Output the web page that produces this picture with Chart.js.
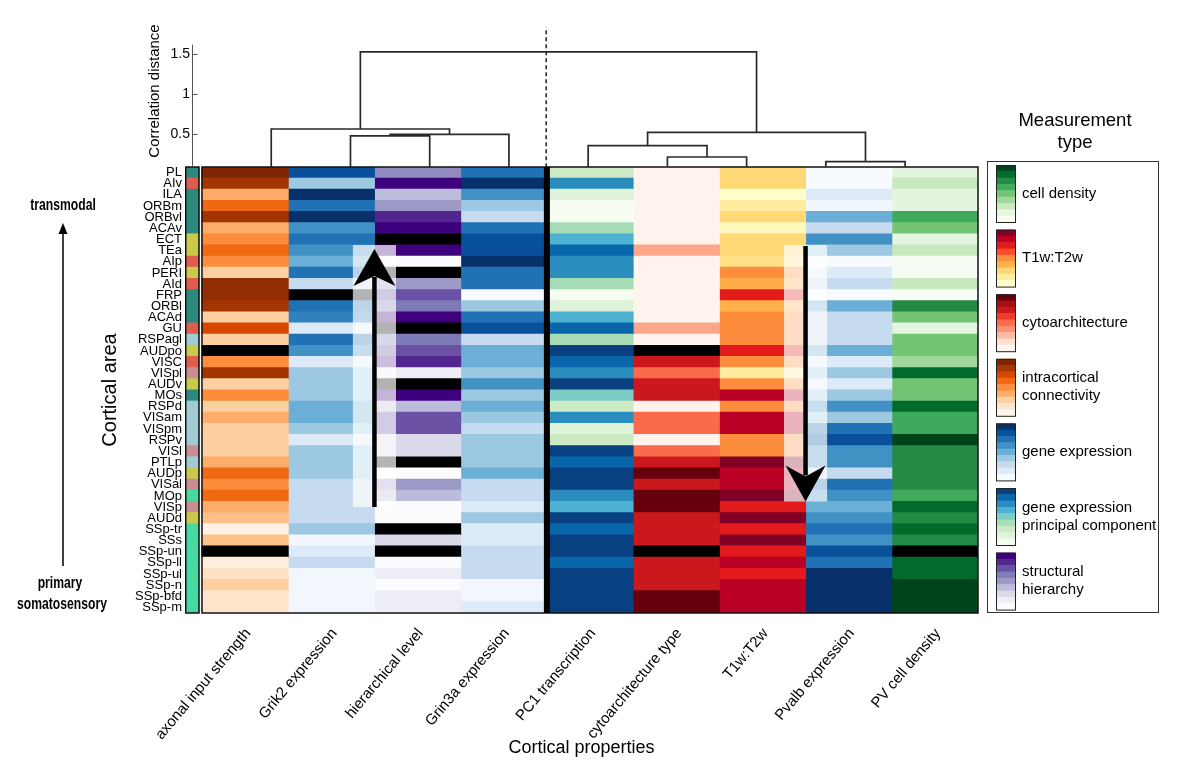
<!DOCTYPE html>
<html><head><meta charset="utf-8">
<script src="https://cdn.jsdelivr.net/npm/chart.js@4.4.0/dist/chart.umd.min.js"></script>
<style>
html,body{margin:0;padding:0;background:#fff;}
#wrap{position:relative;width:1200px;height:773px;}
canvas{position:absolute;left:0;top:0;}
#dendro{pointer-events:none;}
</style></head><body>
<div id="wrap"><canvas id="heat" width="1200" height="773"></canvas><canvas id="dendro" width="1200" height="773"></canvas></div>
<script>
// ---------- data ----------
const areas = ['PL','AIv','ILA','ORBm','ORBvl','ACAv','ECT','TEa','AIp','PERI','AId','FRP','ORBl','ACAd','GU','RSPagl','AUDpo','VISC','VISpl','AUDv','MOs','RSPd','VISam','VISpm','RSPv','VISl','PTLp','AUDp','VISal','MOp','VISp','AUDd','SSp-tr','SSs','SSp-un','SSp-ll','SSp-ul','SSp-n','SSp-bfd','SSp-m'];
const areaTypes = ['T','R','T','T','T','T','Y','Y','R','Y','R','T','T','T','R','B','Y','R','P','Y','T','B','B','B','B','P','B','Y','P','M','P','Y','M','M','M','M','M','M','M','M'];
const properties = ['axonal input strength','Grik2 expression','hierarchical level','Grin3a expression','PC1 transcription','cytoarchitecture type','T1w:T2w','Pvalb expression','PV cell density'];

const axonalInputStrength = [1.00,0.88,0.38,0.63,0.88,0.38,0.50,0.63,0.50,0.25, 0.94,0.94,0.88,0.25,0.75,0.25,null,0.50,0.88,0.25, 0.50,0.25,0.38,0.25,0.25,0.25,0.38,0.63,0.50,0.63, 0.38,0.31,0.03,0.31,null,0.05,0.15,0.25,0.13,0.13];
const grik2Expression = [0.88,0.38,1.00,0.75,1.00,0.63,0.75,0.63,0.50,0.75, 0.25,null,0.75,0.69,0.13,0.75,0.63,0.13,0.38,0.38, 0.38,0.50,0.50,0.38,0.13,0.38,0.38,0.38,0.25,0.25, 0.25,0.25,0.38,0.03,0.13,0.25,0.03,0.03,0.03,0.03];
const hierarchicalLevel = [0.56,1.00,0.38,0.50,0.88,1.00,null,1.00,0.00,null, 0.50,0.75,0.63,1.00,null,0.63,0.75,0.88,0.13,null, 1.00,0.38,0.75,0.75,0.25,0.25,null,0.00,0.50,0.38, 0.00,0.00,null,0.25,null,0.00,0.13,0.00,0.13,0.13];
const grin3aExpression = [0.75,1.00,0.63,0.38,0.25,0.75,0.88,0.88,1.00,0.75, 0.75,0.00,0.38,0.75,0.88,0.25,0.50,0.50,0.38,0.63, 0.38,0.50,0.38,0.25,0.38,0.38,0.38,0.50,0.25,0.25, 0.13,0.38,0.13,0.13,0.25,0.25,0.25,0.03,0.03,0.13];
const pc1Transcription = [0.25,0.75,0.13,0.00,0.00,0.38,0.63,0.88,0.75,0.75, 0.38,0.00,0.13,0.63,0.88,0.38,1.00,0.88,0.75,1.00, 0.50,0.25,0.75,0.13,0.25,1.00,0.88,1.00,1.00,0.75, 0.63,1.00,0.88,1.00,1.00,0.88,1.00,1.00,1.00,1.00];
const cytoarchitectureType = [0.01,0.01,0.01,0.01,0.01,0.01,0.01,0.31,0.01,0.01, 0.01,0.01,0.01,0.01,0.31,0.01,null,0.75,0.50,0.75, 0.75,0.01,0.50,0.50,0.01,0.50,0.75,1.00,0.75,1.00, 1.00,0.75,0.75,0.75,null,0.75,0.75,0.75,1.00,1.00];
const t1wT2w = [0.25,0.25,0.00,0.13,0.25,0.04,0.25,0.25,0.20,0.50, 0.40,0.75,0.38,0.50,0.50,0.50,0.75,0.50,0.13,0.50, 0.88,0.50,0.88,0.88,0.50,0.50,1.00,0.88,0.88,1.00, 0.75,1.00,0.75,1.00,0.75,0.88,0.75,0.88,0.88,0.88];
const pvalbExpression = [0.00,0.00,0.13,0.04,0.50,0.25,0.63,0.38,0.00,0.13, 0.25,0.00,0.50,0.25,0.25,0.25,0.50,0.13,0.38,0.13, 0.38,0.63,0.38,0.75,0.88,0.63,0.63,0.25,0.75,0.63, 0.50,0.63,0.75,0.63,0.88,0.75,1.00,1.00,1.00,1.00];
const pvCellDensity = [0.13,0.25,0.13,0.13,0.63,0.50,0.13,0.25,0.00,0.00, 0.25,0.00,0.75,0.50,0.13,0.50,0.50,0.38,0.88,0.50, 0.50,0.88,0.63,0.63,1.00,0.75,0.75,0.75,0.75,0.63, 0.88,0.75,0.88,0.75,null,0.88,0.88,1.00,1.00,1.00];

// dendrogram linkage (leaf ids 0..8 = property columns, cluster ids 9..)
const linkLeft   = [7, 5, 1, 11, 4, 13, 0, 15];
const linkRight  = [8, 6, 2, 3, 10, 9, 12, 14];
const linkHeight = [0.158, 0.216, 0.479, 0.500, 0.357, 0.525, 0.566, 1.53];
const distanceTicks = [0.5, 1, 1.5];
const cutPosition = 4.47;

// ---------- styles ----------
const CMAPS = {
  Oranges:['#fff5eb','#fee6ce','#fdd0a2','#fdae6b','#fd8d3c','#f16913','#d94801','#a63603','#7f2704'],
  Blues:['#f7fbff','#deebf7','#c6dbef','#9ecae1','#6baed6','#4292c6','#2171b5','#08519c','#08306b'],
  Purples:['#fcfbfd','#efedf5','#dadaeb','#bcbddc','#9e9ac8','#807dba','#6a51a3','#54278f','#3f007d'],
  GnBu:['#f7fcf0','#e0f3db','#ccebc5','#a8ddb5','#7bccc4','#4eb3d3','#2b8cbe','#0868ac','#084081'],
  Reds:['#fff5f0','#fee0d2','#fcbba1','#fc9272','#fb6a4a','#ef3b2c','#cb181d','#a50f15','#67000d'],
  YlOrRd:['#ffffcc','#ffeda0','#fed976','#feb24c','#fd8d3c','#fc4e2a','#e31a1c','#bd0026','#800026'],
  Greens:['#f7fcf5','#e5f5e0','#c7e9c0','#a1d99b','#74c476','#41ab5d','#238b45','#006d2c','#00441b']
};
const propertyCmaps = ['Oranges','Blues','Purples','Blues','GnBu','Reds','YlOrRd','Blues','Greens'];
const TYPE_COLORS = {T:'#2b8a7d', R:'#e05d4d', Y:'#c9c94b', B:'#a1cbd3', P:'#c88d92', M:'#46daa1'};
function hexToRgb(h){ return [parseInt(h.slice(1,3),16), parseInt(h.slice(3,5),16), parseInt(h.slice(5,7),16)]; }
function cmap(name, v){
  if (v === null || v === undefined) return '#000000';
  const a = CMAPS[name];
  const p = Math.max(0, Math.min(1, v)) * (a.length - 1);
  const i = Math.min(Math.floor(p), a.length - 2);
  const t = p - i;
  const c0 = hexToRgb(a[i]), c1 = hexToRgb(a[i+1]);
  return 'rgb(' + c0.map((c,k)=>Math.round(c + (c1[k]-c)*t)).join(',') + ')';
}

const FONT = "'Liberation Sans', Arial, Helvetica, sans-serif";
Chart.defaults.font.family = FONT;
Chart.defaults.color = '#000';

const STRIP_X0 = -0.197, STRIP_X1 = -0.035;
const columns = [axonalInputStrength, grik2Expression, hierarchicalLevel, grin3aExpression, pc1Transcription, cytoarchitectureType, t1wT2w, pvalbExpression, pvCellDensity];
const common = {barPercentage:1, categoryPercentage:1, grouped:false, borderWidth:0, inflateAmount:0.5};

const heatDatasets = [Object.assign({
  label:'area type',
  data: areas.map(()=>[STRIP_X0, STRIP_X1]),
  backgroundColor: areaTypes.map(t=>TYPE_COLORS[t])
}, common)].concat(columns.map((vals, j)=>Object.assign({
  label: properties[j],
  data: vals.map(()=>[j, j+1]),
  backgroundColor: vals.map(v=>cmap(propertyCmaps[j], v))
}, common)));

function narrowText(ctx, text, cx, cy, sx){
  ctx.save(); ctx.translate(cx, cy); ctx.scale(sx, 1); ctx.fillText(text, 0, 0); ctx.restore();
}

const heatDecor = {
  id:'heatDecor',
  afterDatasetsDraw(chart){
    const {ctx, chartArea, scales:{x, y}} = chart;
    const rowH = y.getPixelForValue(1) - y.getPixelForValue(0);
    const rowTop = i => y.getPixelForValue(i) - rowH/2;
    ctx.save();
    // translucent bands behind arrows
    ctx.fillStyle = 'rgba(255,255,255,0.7)';
    const lx0 = x.getPixelForValue(1.75), lx1 = x.getPixelForValue(2.25);
    const lTop = rowTop(7), lBot = rowTop(30) + rowH/2;
    ctx.fillRect(lx0, lTop, lx1-lx0, lBot-lTop);
    const rx0 = x.getPixelForValue(6.75), rx1 = x.getPixelForValue(7.25);
    const rTop = rowTop(7), rBot = rowTop(30);
    ctx.fillRect(rx0, rTop, rx1-rx0, rBot-rTop);
    // frames
    const hx0 = x.getPixelForValue(0), hx9 = x.getPixelForValue(9);
    ctx.strokeStyle = '#111'; ctx.lineWidth = 1.5;
    ctx.strokeRect(hx0, chartArea.top, hx9-hx0, chartArea.bottom-chartArea.top);
    const sx0 = x.getPixelForValue(STRIP_X0), sx1 = x.getPixelForValue(STRIP_X1);
    ctx.strokeRect(sx0+0.75, chartArea.top, sx1-sx0-0.75, chartArea.bottom-chartArea.top);
    // thick separator
    ctx.fillStyle = '#000';
    const sep = x.getPixelForValue(4);
    ctx.fillRect(sep-3, chartArea.top, 6, chartArea.bottom-chartArea.top);
    // arrows
    ctx.fillStyle = '#000'; ctx.strokeStyle = '#000'; ctx.lineWidth = 4.5;
    let cx = x.getPixelForValue(2), tip = lTop + 4;
    ctx.beginPath(); ctx.moveTo(cx, lBot); ctx.lineTo(cx, tip + 28); ctx.stroke();
    ctx.beginPath(); ctx.moveTo(cx, tip); ctx.lineTo(cx+21, tip+37); ctx.lineTo(cx, tip+27); ctx.lineTo(cx-21, tip+37); ctx.closePath(); ctx.fill();
    cx = x.getPixelForValue(7); tip = rBot;
    ctx.beginPath(); ctx.moveTo(cx, rTop+1); ctx.lineTo(cx, tip - 26); ctx.stroke();
    ctx.beginPath(); ctx.moveTo(cx, tip); ctx.lineTo(cx+20, tip-36); ctx.lineTo(cx, tip-25); ctx.lineTo(cx-20, tip-36); ctx.closePath(); ctx.fill();
    ctx.restore();
  },
  afterDraw(chart){
    const ctx = chart.ctx;
    ctx.save();
    // left gradient annotation
    ctx.fillStyle = '#000';
    ctx.textAlign = 'center'; ctx.textBaseline = 'middle';
    ctx.font = "bold 16px 'Liberation Sans', Arial, sans-serif";
    narrowText(ctx, 'transmodal', 63, 206, 0.76);
    narrowText(ctx, 'primary', 60, 584, 0.76);
    narrowText(ctx, 'somatosensory', 62, 605, 0.76);
    ctx.strokeStyle = '#000'; ctx.lineWidth = 1.5;
    ctx.beginPath(); ctx.moveTo(63, 566); ctx.lineTo(63, 232); ctx.stroke();
    ctx.beginPath(); ctx.moveTo(63, 223); ctx.lineTo(67.5, 234); ctx.lineTo(58.5, 234); ctx.closePath(); ctx.fill();
    // legend
    ctx.font = '18.5px ' + FONT;
    ctx.fillText('Measurement', 1075, 121);
    ctx.fillText('type', 1075, 143);
    ctx.strokeStyle = '#333'; ctx.lineWidth = 1;
    ctx.strokeRect(987.5, 161.5, 171, 451);
    const entries = [
      {cm:'Greens', lines:['cell density']},
      {cm:'YlOrRd', lines:['T1w:T2w']},
      {cm:'Reds', lines:['cytoarchitecture']},
      {cm:'Oranges', lines:['intracortical','connectivity']},
      {cm:'Blues', lines:['gene expression']},
      {cm:'GnBu', lines:['gene expression','principal component']},
      {cm:'Purples', lines:['structural','hierarchy']}
    ];
    ctx.font = '15px ' + FONT;
    ctx.textAlign = 'left';
    entries.forEach((e, k)=>{
      const y0 = 165 + k*64.6, h = 57, n = 9;
      for (let b = 0; b < n; b++){
        ctx.fillStyle = CMAPS[e.cm][n-1-b];
        ctx.fillRect(996, y0 + b*h/n, 19, h/n + 0.5);
      }
      ctx.strokeStyle = '#222';
      ctx.strokeRect(996.5, y0+0.5, 19, h);
      ctx.fillStyle = '#000';
      const cy = y0 + h/2;
      if (e.lines.length === 1) ctx.fillText(e.lines[0], 1022, cy);
      else { ctx.fillText(e.lines[0], 1022, cy-9); ctx.fillText(e.lines[1], 1022, cy+9); }
    });
    ctx.restore();
  }
};

new Chart(document.getElementById('heat'), {
  type:'bar',
  data:{labels: areas, datasets: heatDatasets},
  options:{
    indexAxis:'y', responsive:false, animation:false,
    layout:{padding:{left:98, right:222, top:167, bottom:10}},
    plugins:{legend:{display:false}, tooltip:{enabled:false}},
    scales:{
      y:{
        type:'category',
        grid:{display:false, drawTicks:false}, border:{display:false},
        ticks:{autoSkip:false, padding:3, font:{size:13}, color:'#000'},
        title:{display:true, text:'Cortical area', font:{size:20}, color:'#000', padding:{top:0, bottom:0}},
        afterFit: s => { s.width = 87; }
      },
      x:{
        type:'linear', min:STRIP_X0, max:9,
        grid:{display:false, drawTicks:false}, border:{display:false},
        afterBuildTicks: s => { s.ticks = properties.map((_, i)=>({value:i+0.5})); },
        ticks:{autoSkip:false, maxRotation:50, minRotation:50, padding:12, labelOffset:3, font:{size:15}, color:'#000',
               callback:(v, i)=>properties[i]},
        title:{display:true, text:'Cortical properties', font:{size:18}, color:'#000', padding:{top:4, bottom:4}},
        afterFit: s => { s.height = 150; }
      }
    }
  },
  plugins:[heatDecor]
});

// ---------- dendrogram ----------
const nodeX = [], nodeH = [];
properties.forEach((_, i)=>{ nodeX[i] = i + 1; nodeH[i] = 0; });
linkLeft.forEach((a, k)=>{
  const b = linkRight[k], id = properties.length + k;
  nodeX[id] = (nodeX[a] + nodeX[b]) / 2; nodeH[id] = linkHeight[k];
});
const dendroDatasets = linkLeft.map((a, k)=>{
  const b = linkRight[k];
  return {data:[{x:nodeX[a], y:nodeH[a]}, {x:nodeX[a], y:linkHeight[k]}, {x:nodeX[b], y:linkHeight[k]}, {x:nodeX[b], y:nodeH[b]}],
          showLine:true, borderColor:'#2a2a2a', borderWidth:1.7, pointRadius:0, tension:0, fill:false};
});
dendroDatasets.push({data:[{x:cutPosition, y:0}, {x:cutPosition, y:1.84}], showLine:true, borderColor:'#111', borderWidth:1.4,
  borderDash:[4,3], pointRadius:0, fill:false});

const dendroAxis = {
  id:'dendroAxis',
  afterDraw(chart){
    const {ctx, chartArea, scales:{y}} = chart;
    ctx.save();
    ctx.strokeStyle = '#555'; ctx.lineWidth = 1;
    const x0 = chartArea.left + 0.5;
    ctx.beginPath(); ctx.moveTo(x0, y.getPixelForValue(1.62)); ctx.lineTo(x0, chartArea.bottom); ctx.stroke();
    distanceTicks.forEach(v=>{ const py = Math.round(y.getPixelForValue(v)) + 0.5; ctx.beginPath(); ctx.moveTo(x0, py); ctx.lineTo(x0+5, py); ctx.stroke(); });
    ctx.restore();
  }
};

new Chart(document.getElementById('dendro'), {
  type:'scatter',
  data:{datasets: dendroDatasets},
  options:{
    responsive:false, animation:false,
    layout:{padding:{left:146, right:222, top:15, bottom:606}},
    plugins:{legend:{display:false}, tooltip:{enabled:false}},
    scales:{
      x:{type:'linear', min:0, max:9.92, display:false},
      y:{type:'linear', min:0.091, max:1.991,
         grid:{display:false, drawTicks:false}, border:{display:false},
         afterBuildTicks: s => { s.ticks = distanceTicks.map(v=>({value:v})); },
         ticks:{font:{size:14}, padding:2, color:'#000', callback: v => String(v)},
         title:{display:true, text:'Correlation distance', font:{size:15}, color:'#000', padding:{top:0, bottom:0}},
         afterFit: s => { s.width = 46; }
      }
    }
  },
  plugins:[dendroAxis]
});
</script>
</body></html>
